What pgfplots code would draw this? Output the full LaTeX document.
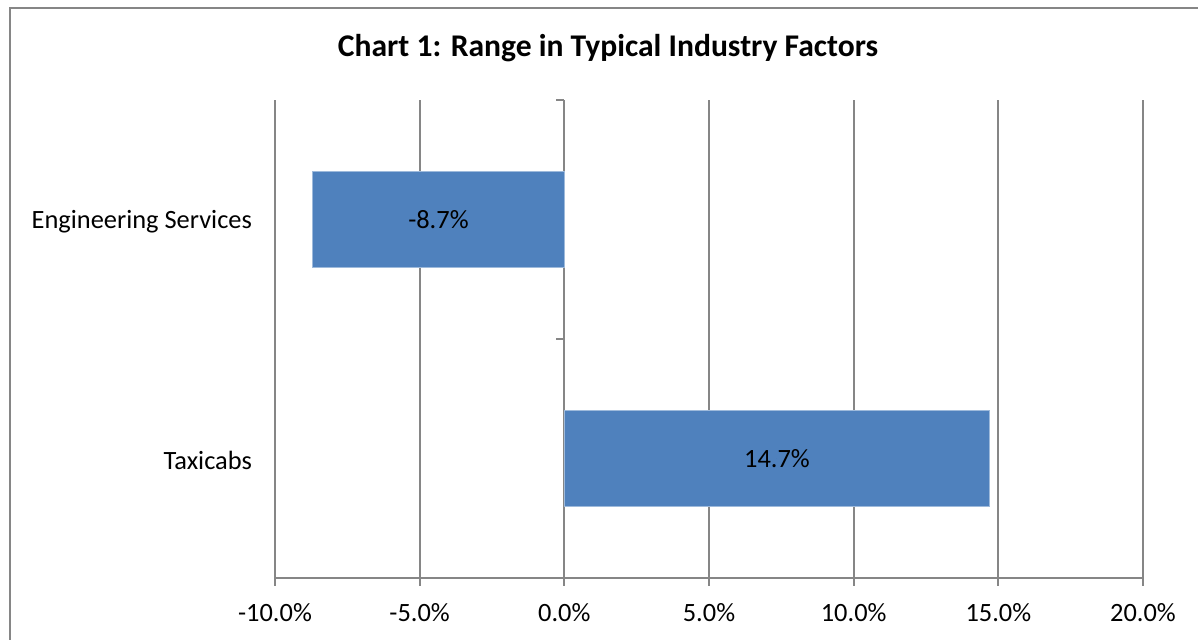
\documentclass[border=0pt]{standalone}
\usepackage{fontspec}
\setmainfont{Carlito}
\usepackage{pgfplots}
\pgfplotsset{compat=1.18}
\definecolor{barblue}{HTML}{4F81BD}
\definecolor{gridgray}{HTML}{868686}
\begin{document}
\begin{tikzpicture}[x=0.5pt,y=0.5pt]
\useasboundingbox (0,0) rectangle (1198,640);
% chart frame (only left and top edges are inside the picture)
\draw[gridgray, line width=1pt] (10,0) -- (10,632) -- (1198,632);
\node[font=\bfseries\fontsize{15.8}{19}\selectfont] at (608,592) {Chart 1: Range in Typical Industry Factors};
\begin{axis}[
  at={(137.5pt,31pt)}, anchor=south west,
  width=434pt, height=239pt, scale only axis,
  xmin=-10, xmax=20, ymin=-0.5, ymax=1.5,
  xtick={-10,-5,0,5,10,15,20},
  xticklabels={-10.0\%,-5.0\%,0.0\%,5.0\%,10.0\%,15.0\%,20.0\%},
  ytick={0,1}, yticklabels={Taxicabs,Engineering Services},
  xmajorgrids, grid style={gridgray, line width=0.9pt},
  axis x line*=bottom, axis y line*=left,
  axis line style={gridgray, line width=0.9pt},
  xtick style={gridgray, line width=0.9pt}, xtick align=outside,
  major tick length=4pt,
  ytick style={draw=none},
  tick label style={font=\fontsize{13.2}{15}\selectfont, text=black},
  yticklabel style={xshift=-8pt, yshift=-1pt},
  xticklabel style={yshift=-5pt},
]
\addplot[xbar, bar width=0.4, bar shift=0pt, fill=barblue, draw=barblue!55!white, line width=0.4pt]
  coordinates {(-8.7,1) (14.7,0)};
\addplot[only marks, mark=*, mark size=0pt, mark options={draw=none, fill=none},
  nodes near coords, point meta=explicit symbolic,
  nodes near coords style={anchor=center, font=\fontsize{13.2}{15}\selectfont, text=black}]
  coordinates {(-4.35,1) [-8.7\%] (7.35,0) [14.7\%]};
% ticks on the zero line at the category boundaries
\draw[gridgray, line width=0.9pt] ([xshift=-4pt]axis cs:0,-0.5) -- (axis cs:0,-0.5);
\draw[gridgray, line width=0.9pt] ([xshift=-4pt]axis cs:0,0.5) -- (axis cs:0,0.5);
\draw[gridgray, line width=0.9pt] ([xshift=-4pt]axis cs:0,1.5) -- (axis cs:0,1.5);
\end{axis}
\end{tikzpicture}
\end{document}
